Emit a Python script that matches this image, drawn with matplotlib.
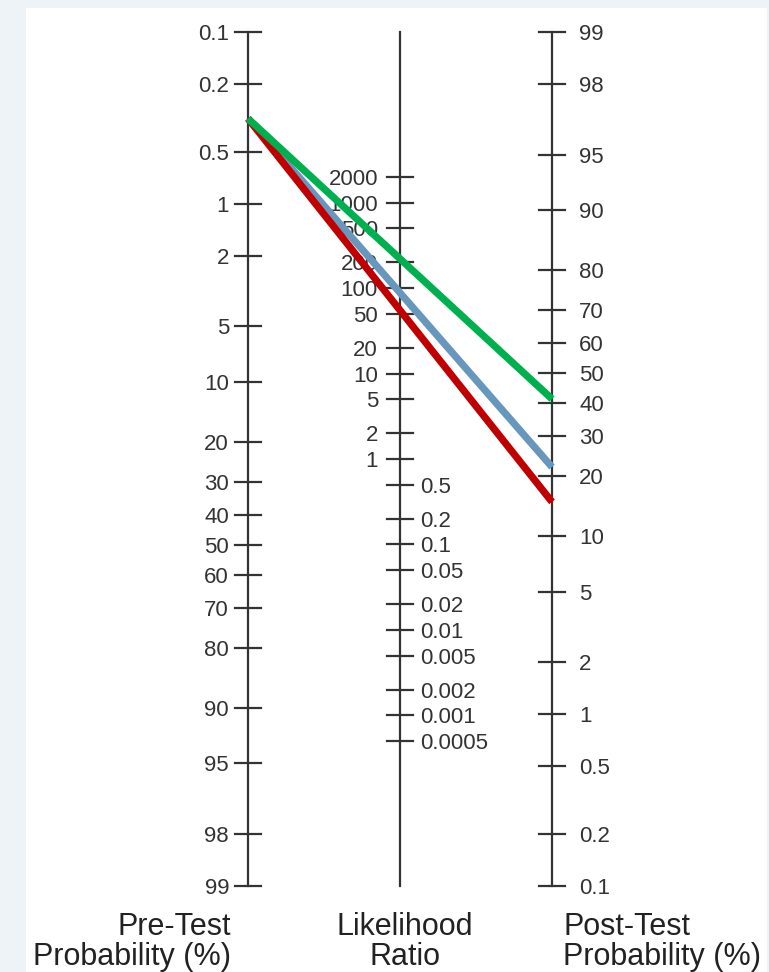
import numpy as np
import matplotlib
matplotlib.use("Agg")
import matplotlib.pyplot as plt
from matplotlib.patches import Rectangle

plt.rcParams['font.family'] = ['Liberation Sans', 'DejaVu Sans']

# ---- data ----
pre_ticks = [0.1, 0.2, 0.5, 1, 2, 5, 10, 20, 30, 40, 50, 60, 70, 80, 90, 95, 98, 99]
post_ticks = [99, 98, 95, 90, 80, 70, 60, 50, 40, 30, 20, 10, 5, 2, 1, 0.5, 0.2, 0.1]
lr_ticks = [2000, 1000, 500, 200, 100, 50, 20, 10, 5, 2, 1,
            0.5, 0.2, 0.1, 0.05, 0.02, 0.01, 0.005, 0.002, 0.001, 0.0005]
lr_labels = ["2000", "1000", "500", "200", "100", "50", "20", "10", "5", "2", "1",
             "0.5", "0.2", "0.1", "0.05", "0.02", "0.01", "0.005", "0.002", "0.001", "0.0005"]

pre_test = 0.32                 # pre-test probability (%)
line_lr = [88, 55, 220]         # likelihood ratios: blue, red, green
line_colors = ["#6897bd", "#c00000", "#00b04f"]

titles = [("Pre-Test", "Probability (%)"), ("Likelihood", "Ratio"),
          ("Post-Test", "Probability (%)")]

# ---- layout ----
W, H = 769, 972
x_left, x_mid, x_right = 248, 400, 552
top_px, bot_px = 32, 886
tick_half = 13
axis_col = "#333333"
text_col = "#333333"


def logit(p):
    p = np.asarray(p, dtype=float) / 100.0
    return np.log(p / (1 - p))


lo, hi = logit(0.1), logit(99)
shift = -lo - hi


def v_left(p):
    return -logit(p)


def v_right(p):
    return logit(p) + shift


def v_mid(lr):
    return np.log(lr) / 2 + shift / 2


v_top, v_bot = -lo, -hi
scale = (bot_px - top_px) / (v_top - v_bot)   # px per unit


def v_px(py):
    # pixel row (from top) -> data units, for layout only
    return v_top - (py - top_px) / scale


fig = plt.figure(figsize=(W / 100, H / 100), dpi=100)
fig.patch.set_facecolor("#eef3f7")
ax = fig.add_axes([0, 0, 1, 1])
ax.set_xlim(0, W)
ax.set_ylim(v_px(H), v_px(0))
ax.axis("off")
ax.add_patch(Rectangle((26, v_px(H)), 741, v_px(8) - v_px(H),
                       facecolor="white", edgecolor="none", zorder=0))

# axes lines
for x in (x_left, x_mid, x_right):
    ax.plot([x, x], [v_bot, v_top], color=axis_col, lw=1.6, zorder=2)

tick_fs = 16

# left axis
for p in pre_ticks:
    y = v_left(p)
    ax.plot([x_left - tick_half, x_left + tick_half], [y, y], color=axis_col, lw=1.6, zorder=2)
    ax.text(x_left - 19, y, f"{p:g}", ha="right", va="center_baseline",
            fontsize=tick_fs, color=text_col)

# right axis
for p in post_ticks:
    y = v_right(p)
    ax.plot([x_right - tick_half, x_right + tick_half], [y, y], color=axis_col, lw=1.6, zorder=2)
    ax.text(x_right + 27, y, f"{p:g}", ha="left", va="center_baseline",
            fontsize=tick_fs, color=text_col)

# middle axis
for lr, lab in zip(lr_ticks, lr_labels):
    y = v_mid(lr)
    ax.plot([x_mid - tick_half, x_mid + tick_half], [y, y], color=axis_col, lw=1.6, zorder=2)
    if lr >= 1:
        ax.text(x_mid - 22, y, lab, ha="right", va="center_baseline",
                fontsize=tick_fs, color=text_col)
    else:
        ax.text(x_mid + 20, y, lab, ha="left", va="center_baseline",
                fontsize=tick_fs, color=text_col)

# nomogram lines
for lr, c in zip(line_lr, line_colors):
    post = 100 / (1 + (100 - pre_test) / (pre_test * lr))
    ax.plot([x_left, x_right], [v_left(pre_test), v_right(post)], color=c,
            lw=5.2, solid_capstyle="butt", zorder=3)

# titles
title_fs = 22
for (l1, l2), x, ha in zip(titles, (231, 405, 563), ("right", "center", "left")):
    ax.text(x, v_px(935), l1, ha=ha, va="baseline", fontsize=title_fs, color="#222222")
    ax.text(x, v_px(965), l2, ha=ha, va="baseline", fontsize=title_fs, color="#222222")

fig.savefig("out.png", dpi=100, facecolor=fig.get_facecolor())
